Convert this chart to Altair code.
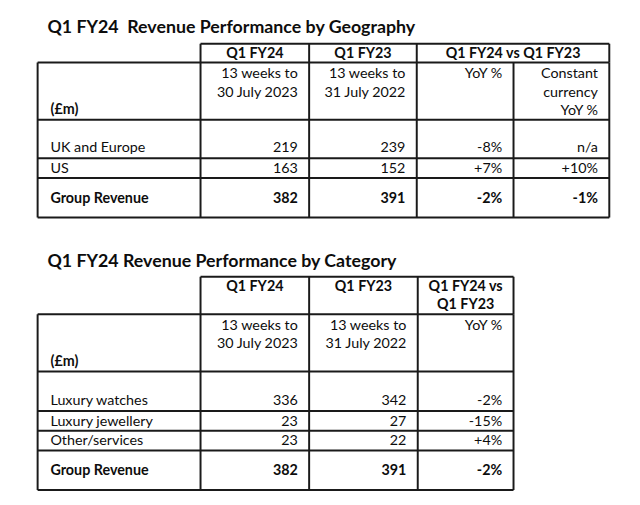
import altair as alt
import pandas as pd

# ---------------- data ----------------
geo_title = "Q1 FY24\u00a0 Revenue Performance by Geography"
geo_headers = ["Q1 FY24", "Q1 FY23", "Q1 FY24 vs Q1 FY23"]
geo_sub_fy24 = ["13 weeks to", "30 July 2023"]
geo_sub_fy23 = ["13 weeks to", "31 July 2022"]
geo_sub_yoy = ["YoY %"]
geo_sub_cc = ["Constant", "currency", "YoY %"]
geo_rows = ["UK and Europe", "US", "Group Revenue"]
geo_fy24 = [219, 163, 382]
geo_fy23 = [239, 152, 391]
geo_yoy = ["-8%", "+7%", "-2%"]
geo_cc = ["n/a", "+10%", "-1%"]

cat_title = "Q1 FY24 Revenue Performance by Category"
cat_headers = ["Q1 FY24", "Q1 FY23", "Q1 FY24 vs\nQ1 FY23"]
cat_sub_fy24 = ["13 weeks to", "30 July 2023"]
cat_sub_fy23 = ["13 weeks to", "31 July 2022"]
cat_sub_yoy = ["YoY %"]
cat_rows = ["Luxury watches", "Luxury jewellery", "Other/services", "Group Revenue"]
cat_fy24 = [336, 23, 23, 382]
cat_fy23 = [342, 27, 22, 391]
cat_yoy = ["-2%", "-15%", "+4%", "-2%"]
unit_label = "(£m)"

# ---------------- layout (page pixels) ----------------
LINE = 18.5
PAD_R = 11.5
LEFT_X = 51

texts = []   # x, y, text, style
rules = []   # x, x2, y, y2


def add_table(top, title, headers, subs, rows, cols, row_ys, edges, hdr_top, hdr_bot, sub_bot, row_lines, total_bot):
    texts.append(dict(x=48, y=top, text=title, style="title"))
    ncols = len(cols)
    hy = hdr_top + 10.5
    for i, h in enumerate(headers):
        lines = h.split("\n")
        if i == len(headers) - 1:
            cx = (edges[i + 1] + edges[-1]) / 2
        else:
            cx = (edges[i + 1] + edges[i + 2]) / 2
        for k, ln in enumerate(lines):
            texts.append(dict(x=cx, y=hy + k * LINE, text=ln, style="center_bold"))
    sy = hdr_bot + 12
    for j, sub in enumerate(subs):
        for k, ln in enumerate(sub):
            texts.append(dict(x=edges[j + 2] - PAD_R, y=sy + k * LINE, text=ln, style="right"))
    texts.append(dict(x=LEFT_X, y=sub_bot - 10, text=unit_label, style="left_bold"))
    for r, name in enumerate(rows):
        bold = r == len(rows) - 1
        texts.append(dict(x=LEFT_X, y=row_ys[r], text=name, style="left_bold" if bold else "left"))
        for j, col in enumerate(cols):
            texts.append(dict(x=edges[j + 2] - PAD_R, y=row_ys[r], text=str(col[r]),
                              style="right_bold" if bold else "right"))
    hdr_x = [edges[1]] + [edges[i] for i in range(2, len(edges) - 2)] + [edges[-1]]
    if len(headers) == ncols:
        hdr_x = edges[1:]
    rules.append(dict(x=edges[1], x2=edges[-1], y=hdr_top, y2=hdr_top))
    for xv in hdr_x:
        rules.append(dict(x=xv, x2=xv, y=hdr_top, y2=hdr_bot))
    for yv in [hdr_bot, sub_bot] + row_lines + [total_bot]:
        rules.append(dict(x=edges[0], x2=edges[-1], y=yv, y2=yv))
    for xv in edges:
        rules.append(dict(x=xv, x2=xv, y=hdr_bot, y2=total_bot))


add_table(
    top=25, title=geo_title, headers=geo_headers,
    subs=[geo_sub_fy24, geo_sub_fy23, geo_sub_yoy, geo_sub_cc],
    rows=geo_rows, cols=[geo_fy24, geo_fy23, geo_yoy, geo_cc],
    row_ys=[147, 168, 198],
    edges=[38, 203, 313, 422, 520, 617],
    hdr_top=41, hdr_bot=60, sub_bot=118, row_lines=[157, 177], total_bot=217,
)
add_table(
    top=262, title=cat_title, headers=cat_headers,
    subs=[cat_sub_fy24, cat_sub_fy23, cat_sub_yoy],
    rows=cat_rows, cols=[cat_fy24, cat_fy23, cat_yoy],
    row_ys=[403, 424, 443, 474],
    edges=[38, 203, 313, 423, 520],
    hdr_top=277, hdr_bot=315, sub_bot=373, row_lines=[413, 433, 453], total_bot=493,
)

tdf = pd.DataFrame(texts)
rdf = pd.DataFrame(rules)

W, H = 632, 497
xs = alt.Scale(domain=[8, 640], nice=False, zero=False)
ys = alt.Scale(domain=[8, 505], nice=False, zero=False, reverse=True)

FONT = "Lato"
FS = 14.5
COLOR = "#0d0d0d"

base = alt.Chart(rdf)
rule_layer = base.mark_rule(strokeWidth=2, color="#1a1a1a").encode(
    x=alt.X("x:Q", scale=xs, axis=None),
    x2="x2:Q",
    y=alt.Y("y:Q", scale=ys, axis=None),
    y2="y2:Q",
)


def text_layer(style, align, weight, size=FS):
    return alt.Chart(tdf).transform_filter(alt.datum.style == style).mark_text(
        align=align, baseline="middle", font=FONT, fontSize=size, fontWeight=weight, color=COLOR
    ).encode(
        x=alt.X("x:Q", scale=xs, axis=None),
        y=alt.Y("y:Q", scale=ys, axis=None),
        text="text:N",
    )


layers = [
    rule_layer,
    text_layer("title", "left", "bold", 18),
    text_layer("center_bold", "center", "bold"),
    text_layer("right", "right", "normal"),
    text_layer("right_bold", "right", "bold"),
    text_layer("left", "left", "normal"),
    text_layer("left_bold", "left", "bold"),
]

chart = alt.layer(*layers).properties(
    width=W, height=H, autosize=alt.AutoSizeParams(type="none"), padding=0,
    background="white",
).configure_view(stroke=None)

chart.save("out.html", embed_options={"renderer": "svg", "actions": False})
